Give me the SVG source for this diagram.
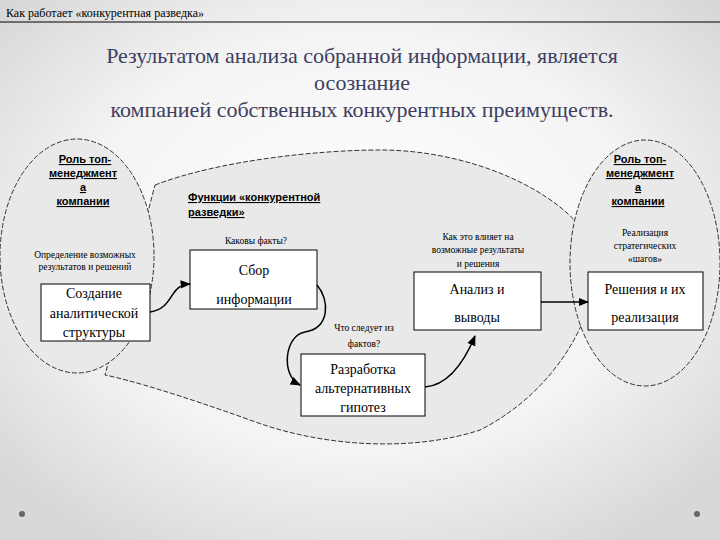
<svg xmlns="http://www.w3.org/2000/svg" width="720" height="540" viewBox="0 0 720 540">
<defs>
<radialGradient id="bg" cx="50%" cy="45%" r="65%"><stop offset="0" stop-color="#ffffff"/><stop offset="0.6" stop-color="#f4f4f4"/><stop offset="1" stop-color="#d8d8d8"/></radialGradient>
<marker id="ar" viewBox="0 0 10 10" refX="9" refY="5" markerWidth="7" markerHeight="7" orient="auto"><path d="M0,1 L10,5 L0,9 z" fill="#000"/></marker>
<style>
.sh{fill:#e9e9e9;stroke:#333;stroke-width:1;stroke-dasharray:5 2}
.box{fill:#fff;stroke:#000;stroke-width:1}
.b{font-weight:bold;font-size:11px;text-decoration:underline;text-anchor:middle}
.m{text-anchor:middle}
.c{fill:none;stroke:#000;stroke-width:1.5;marker-end:url(#ar)}
</style>
</defs>
<rect width="720" height="540" fill="url(#bg)"/>
<g font-family="'Liberation Serif','DejaVu Serif',serif">
<text x="6" y="17" font-size="12">Как работает «конкурентная разведка»</text>
<line x1="0" y1="22" x2="720" y2="22" stroke="#000" stroke-width="1"/>
<g id="title" class="m" font-size="22" fill="#3c4060">
<text x="362" y="63">Результатом анализа собранной информации, является</text>
<text x="362" y="90">осознание</text>
<text x="362" y="117">компанией собственных конкурентных преимуществ.</text>
</g>
<path id="blob" class="sh" d="M155,185 C220,160 320,150 380,150 C470,150 560,190 590,240 C610,300 560,390 480,430 C420,450 330,450 250,420 C180,395 130,380 105,375 Z"/>
<ellipse id="leftEllipse" class="sh" cx="77" cy="256" rx="77" ry="117"/>
<ellipse id="rightEllipse" class="sh" cx="645" cy="263" rx="75" ry="123"/>
<g id="leftLabel"><text class="b" y="163" font-family="'Liberation Sans',sans-serif"><tspan x="85">Роль топ-</tspan><tspan x="83" dy="14">менеджмент</tspan><tspan x="83" dy="14">а</tspan><tspan x="83" dy="14">компании</tspan></text>
<text class="m" font-size="9.5" y="258"><tspan x="85">Определение возможных</tspan><tspan x="85" dy="12">результатов и решений</tspan></text></g>
<g id="rightLabel"><text class="b" y="163" font-family="'Liberation Sans',sans-serif"><tspan x="640">Роль топ-</tspan><tspan x="640" dy="14">менеджмент</tspan><tspan x="638" dy="14">а</tspan><tspan x="638" dy="14">компании</tspan></text>
<text class="m" font-size="9.5" y="236"><tspan x="645">Реализация</tspan><tspan x="645" dy="13">стратегических</tspan><tspan x="645" dy="13">«шагов»</tspan></text></g>
<text class="b" x="188" y="201" style="text-anchor:start" font-family="'Liberation Sans',sans-serif">Функции «конкурентной</text>
<text class="b" x="188" y="216" style="text-anchor:start" font-family="'Liberation Sans',sans-serif">разведки»</text>
<g id="n1"><rect class="box" x="41" y="284" width="109" height="57"/><text class="m" font-size="14"><tspan x="94" y="298">Создание</tspan><tspan x="94" y="318">аналитической</tspan><tspan x="94" y="337">структуры</tspan></text></g>
<g id="n2"><text class="m" font-size="9.5" x="256" y="244">Каковы факты?</text><rect class="box" x="190" y="250" width="127" height="59"/><text class="m" font-size="14"><tspan x="254" y="275">Сбор</tspan><tspan x="254" y="304">информации</tspan></text></g>
<g id="n3"><text class="m" font-size="9.5"><tspan x="364" y="331">Что следует из</tspan><tspan x="364" y="347">фактов?</tspan></text><rect class="box" x="301" y="354" width="124" height="62"/><text class="m" font-size="14"><tspan x="363" y="374">Разработка</tspan><tspan x="363" y="393">альтернативных</tspan><tspan x="363" y="412">гипотез</tspan></text></g>
<g id="n4"><text class="m" font-size="9.5"><tspan x="478" y="240">Как это влияет на</tspan><tspan x="478" y="253">возможные результаты</tspan><tspan x="478" y="267">и  решения</tspan></text><rect class="box" x="414" y="272" width="127" height="58"/><text class="m" font-size="14"><tspan x="477" y="294">Анализ и</tspan><tspan x="477" y="322">выводы</tspan></text></g>
<g id="n5"><rect class="box" x="588" y="272" width="115" height="58"/><text class="m" font-size="14"><tspan x="645" y="294">Решения и их</tspan><tspan x="645" y="322">реализация</tspan></text></g>
</g>
<g id="connectors">
<path class="c" d="M150,312 C175,308 168,285 190,284"/>
<path class="c" d="M317,285 C330,300 330,328 305,332 C285,335 280,375 300,385"/>
<path class="c" d="M425,387 C450,385 465,360 475,336"/>
<path class="c" d="M541,302 L588,302"/>
</g>
<circle cx="22" cy="514" r="3" fill="#666"/><circle cx="697" cy="514" r="3" fill="#666"/>
</svg>
